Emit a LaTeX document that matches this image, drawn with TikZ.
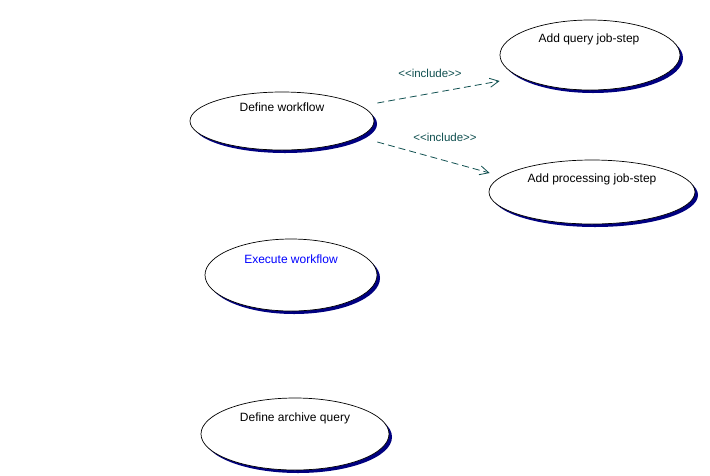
\documentclass[tikz,border=0pt]{standalone}
\usepackage{fontspec}
\setmainfont{Liberation Sans}
\usetikzlibrary{arrows.meta,shapes.geometric,shadows,calc}
\definecolor{navy}{RGB}{0,0,128}
\definecolor{incl}{RGB}{16,80,80}
\definecolor{bluetext}{RGB}{0,0,255}
\begin{document}
\begin{tikzpicture}[x=1pt,y=-1pt,
  uc/.style={ellipse, draw=black, fill=white, line width=0.7pt, inner sep=0pt,
    drop shadow={shadow xshift=3pt, shadow yshift=-3pt, fill=navy, opacity=1}},
  uctext/.style={font=\fontsize{12}{14}\selectfont, inner sep=0pt, anchor=center},
  inc/.style={draw=incl, line width=0.8pt, dash pattern=on 7pt off 4pt,
    -{Straight Barb[length=9pt,width=9pt,line width=0.8pt]}},
  inclabel/.style={font=\fontsize{11.5}{13}\selectfont, text=incl, inner sep=0pt}]
\fill[white] (0,0) rectangle (710,475);
\useasboundingbox (0,0) rectangle (710,475);

\node[uc, minimum width=184pt, minimum height=58pt] (dw) at (282,121) {};
\node[uctext] (dwt) at (282,107) {Define workflow};

\node[uc, minimum width=180pt, minimum height=70pt] (aq) at (590,55) {};
\node[uctext] (aqt) at (589,39) {Add query job-step};

\node[uc, minimum width=206pt, minimum height=64pt] (ap) at (592,192) {};
\node[uctext] (apt) at (592,179) {Add processing job-step};

\node[uc, minimum width=172pt, minimum height=72pt] (ew) at (291,275) {};
\node[uctext, text=bluetext] (ewt) at (291,259) {Execute workflow};

\node[uc, minimum width=188pt, minimum height=72pt] (da) at (295,434) {};
\node[uctext] (dat) at (295,418) {Define archive query};

\draw[inc] ($(dw.east)+(3,-18)$) -- ($(aq.west)+(0,26)$);
\draw[inc] ($(dw.east)+(3,21)$) -- ($(ap.west)+(1,-19)$);

\node[inclabel] (l1) at (430,73) {<{}<include>{}>};
\node[inclabel] (l2) at (445,137) {<{}<include>{}>};
\end{tikzpicture}
\end{document}
